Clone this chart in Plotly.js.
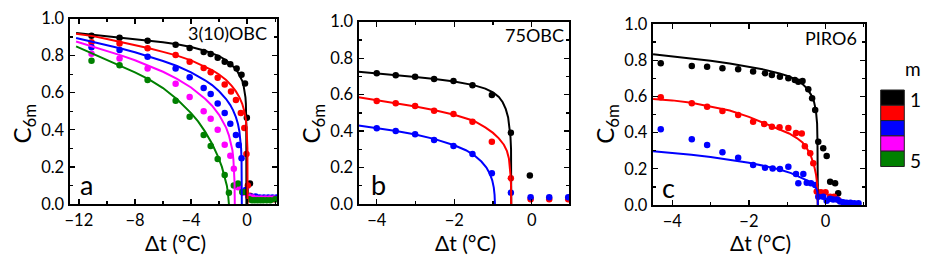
<!DOCTYPE html>
<html>
<head>
<meta charset="utf-8">
<script src="https://cdn.plot.ly/plotly-3.0.1.min.js"></script>
<style>html,body{margin:0;padding:0;background:#fff;}#chart{width:932px;height:268px;}</style>
</head>
<body>
<div id="chart"></div>
<script>
// ---------- DATA ----------
const mLabels = ['1', '2', '3', '4', '5'];
const mColors = ['#000000', '#ff0000', '#0000ff', '#ff00ff', '#008000'];
const panelNames = ['3(10)OBC', '75OBC', 'PIRO6'];
const panelLetters = ['a', 'b', 'c'];
const xTitle = 'Δt (°C)';
const yTitle = 'C<sub>6m</sub>';

// Panel a : 3(10)OBC  (measured points)
const a1x = [-11.1,-9.1,-7.1,-5.1,-4.1,-3.1,-2.6,-2.1,-1.6,-1.2,-0.75,-0.4,-0.15,-0.02,0.2,0.45,0.75,1.05,1.35,1.65,2.0];
const a1y = [0.907,0.896,0.880,0.858,0.841,0.820,0.808,0.789,0.767,0.753,0.73,0.697,0.65,0.465,0.11,0.035,0.03,0.03,0.03,0.03,0.03];
const a2x = [-11.1,-9.1,-7.1,-5.1,-4.1,-3.1,-2.6,-2.1,-1.6,-1.15,-0.8,-0.45,-0.2,-0.05,0.05,0.2,0.4,0.7,1.0,1.3,1.6,1.9];
const a2y = [0.872,0.865,0.84,0.803,0.767,0.733,0.71,0.68,0.644,0.607,0.56,0.49,0.41,0.27,0.1,0.045,0.03,0.03,0.03,0.025,0.025,0.025];
const a3x = [-11.1,-9.1,-7.1,-5.1,-4.1,-3.1,-2.6,-2.1,-1.6,-1.2,-0.8,-0.6,-0.4,-0.1,0.1,0.3,0.6,0.9,1.2,1.5,1.8,2.1];
const a3y = [0.845,0.83,0.794,0.731,0.683,0.626,0.593,0.542,0.49,0.433,0.372,0.318,0.246,0.075,0.04,0.04,0.04,0.035,0.035,0.035,0.035,0.035];
const a4x = [-11.1,-9.1,-7.1,-5.1,-4.1,-3.1,-2.6,-2.1,-1.6,-1.2,-0.95,-0.65,-0.3,0.1,0.4,0.7,1.0,1.3,1.6,1.9];
const a4y = [0.81,0.785,0.731,0.648,0.577,0.5,0.46,0.4,0.32,0.26,0.19,0.09,0.06,0.04,0.035,0.03,0.03,0.03,0.03,0.03];
const a5x = [-11.1,-9.1,-7.1,-5.1,-4.1,-3.1,-2.6,-2.1,-1.6,-1.3,-0.95,-0.65,-0.35,-0.1,0.15,0.35,0.55,0.75,0.95,1.15,1.4,1.65,2.0];
const a5y = [0.772,0.748,0.668,0.557,0.471,0.372,0.313,0.242,0.156,0.06,0.1,0.11,0.065,0.065,0.025,0.02,0.02,0.02,0.02,0.02,0.02,0.02,0.025];
// Panel a fit curves
const a1fx = [-12.2,-11,-10,-9,-8,-7,-6,-5,-4,-3,-2.5,-2,-1.5,-1.2,-0.9,-0.7,-0.5,-0.35,-0.25,-0.17,-0.12,-0.09,-0.07,-0.06,-0.05];
const a1fy = [0.922,0.912,0.904,0.897,0.89,0.882,0.872,0.861,0.846,0.826,0.813,0.797,0.775,0.757,0.735,0.715,0.69,0.664,0.637,0.606,0.575,0.54,0.49,0.42,0.0];
const a2fx = [-12.2,-11,-10,-9,-8,-7,-6,-5,-4,-3,-2.5,-2,-1.5,-1.1,-0.8,-0.55,-0.35,-0.2,-0.1,-0.04,0.0,0.02,0.03];
const a2fy = [0.918,0.905,0.89,0.874,0.858,0.84,0.82,0.8,0.774,0.742,0.722,0.698,0.668,0.637,0.607,0.575,0.54,0.5,0.46,0.41,0.36,0.3,0.0];
const a3fx = [-12.2,-11,-10,-9,-8,-7,-6,-5,-4,-3,-2.5,-2,-1.5,-1.2,-1.0,-0.8,-0.65,-0.55,-0.48,-0.43,-0.40,-0.385,-0.38];
const a3fy = [0.895,0.875,0.857,0.838,0.818,0.796,0.771,0.744,0.71,0.667,0.641,0.608,0.566,0.533,0.505,0.468,0.43,0.39,0.35,0.3,0.24,0.18,0.0];
const a4fx = [-12.2,-11,-10,-9,-8,-7,-6,-5,-4,-3,-2.5,-2,-1.7,-1.5,-1.3,-1.15,-1.05,-0.98,-0.93,-0.9,-0.88];
const a4fy = [0.876,0.849,0.826,0.801,0.775,0.745,0.713,0.675,0.628,0.567,0.53,0.481,0.443,0.412,0.37,0.33,0.29,0.24,0.18,0.12,0.0];
const a5fx = [-12.2,-11,-10,-9,-8,-7,-6,-5,-4,-3.5,-3,-2.5,-2.1,-1.8,-1.6,-1.45,-1.37,-1.33,-1.31,-1.3];
const a5fy = [0.85,0.81,0.778,0.745,0.71,0.672,0.625,0.565,0.49,0.445,0.39,0.325,0.26,0.2,0.15,0.1,0.06,0.03,0.01,0.0];

// Panel b : 75OBC
const b1x = [-4.0,-3.51,-3.01,-2.52,-2.02,-1.53,-1.03,-0.54,-0.05];
const b1y = [0.717,0.706,0.698,0.686,0.675,0.651,0.598,0.391,0.157];
const b2x = [-4.0,-3.51,-3.01,-2.52,-2.02,-1.53,-1.03,-0.54,-0.03,0.45,0.94];
const b2y = [0.565,0.552,0.538,0.512,0.494,0.451,0.342,0.141,0.026,0.026,0.026];
const b3x = [-4.0,-3.51,-3.01,-2.52,-2.02,-1.53,-1.03,-0.54,-0.03,0.45,0.94];
const b3y = [0.415,0.4,0.382,0.351,0.318,0.274,0.168,0.062,0.037,0.037,0.037];
const b1fx = [-4.47,-4,-3.5,-3,-2.5,-2,-1.5,-1.2,-1.0,-0.85,-0.75,-0.67,-0.61,-0.57,-0.55,-0.535,-0.53];
const b1fy = [0.726,0.718,0.708,0.697,0.686,0.672,0.652,0.633,0.612,0.587,0.558,0.52,0.475,0.42,0.37,0.3,0.0];
const b2fx = [-4.47,-4,-3.5,-3,-2.5,-2,-1.5,-1.2,-1.0,-0.85,-0.72,-0.64,-0.59,-0.56,-0.545,-0.535,-0.53];
const b2fy = [0.585,0.57,0.553,0.535,0.514,0.49,0.457,0.42,0.39,0.36,0.325,0.29,0.25,0.2,0.15,0.1,0.0];
const b3fx = [-4.47,-4,-3.5,-3,-2.5,-2,-1.7,-1.5,-1.3,-1.17,-1.08,-1.02,-0.98,-0.96,-0.95];
const b3fy = [0.43,0.416,0.4,0.381,0.356,0.322,0.295,0.27,0.233,0.2,0.165,0.13,0.09,0.05,0.0];

// Panel c : PIRO6
const c1x = [-4.3,-3.49,-3.09,-2.69,-2.28,-1.89,-1.58,-1.4,-1.19,-0.97,-0.8,-0.71,-0.6,-0.45,-0.35,-0.27,-0.19,-0.06,0.03,0.12,0.25,0.33];
const c1y = [0.783,0.768,0.764,0.755,0.75,0.737,0.728,0.718,0.709,0.7,0.691,0.681,0.685,0.64,0.59,0.525,0.35,0.313,0.271,0.129,0.12,0.065];
const c2x = [-4.3,-3.49,-3.09,-2.69,-2.28,-1.89,-1.6,-1.4,-1.2,-0.97,-0.77,-0.62,-0.54,-0.4,-0.32,-0.23,-0.12,0.0,0.12,0.22,0.32];
const c2y = [0.595,0.562,0.543,0.519,0.497,0.46,0.448,0.433,0.43,0.425,0.398,0.395,0.325,0.286,0.23,0.075,0.07,0.07,0.045,0.045,0.03];
const c3x = [-4.3,-3.49,-3.09,-2.69,-2.28,-1.89,-1.58,-1.38,-1.19,-0.97,-0.77,-0.71,-0.58,-0.49,-0.38,-0.27,-0.19,-0.06,0.03,0.12,0.2,0.3,0.38,0.46,0.55,0.65,0.75,0.86];
const c3y = [0.418,0.363,0.331,0.291,0.261,0.221,0.206,0.202,0.199,0.212,0.171,0.12,0.171,0.123,0.12,0.11,0.046,0.046,0.024,0.035,0.03,0.03,0.02,0.015,0.013,0.013,0.01,0.009];
const c1fx = [-4.5,-4,-3.5,-3,-2.5,-2,-1.6,-1.2,-0.95,-0.75,-0.6,-0.48,-0.38,-0.3,-0.25,-0.22,-0.21,-0.2];
const c1fy = [0.833,0.822,0.81,0.797,0.782,0.764,0.748,0.727,0.71,0.69,0.668,0.643,0.61,0.57,0.52,0.45,0.35,0.0];
const c2fx = [-4.5,-4,-3.5,-3,-2.5,-2,-1.6,-1.2,-0.95,-0.75,-0.6,-0.48,-0.38,-0.3,-0.25,-0.22,-0.205,-0.2];
const c2fy = [0.585,0.578,0.565,0.545,0.522,0.487,0.452,0.418,0.395,0.37,0.345,0.31,0.27,0.22,0.17,0.12,0.07,0.0];
const c3fx = [-4.5,-4,-3.5,-3,-2.5,-2,-1.6,-1.2,-0.9,-0.7,-0.5,-0.38,-0.3,-0.25,-0.22,-0.205,-0.2];
const c3fy = [0.297,0.288,0.277,0.265,0.251,0.233,0.216,0.196,0.176,0.158,0.137,0.122,0.108,0.095,0.08,0.06,0.0];

// ---------- BUILD ----------
const FONT = 'Lato, "Open Sans", sans-serif';
const W = 932, H = 268;
const px = v => v / W;
const py = v => 1 - v / H;

const panels = [
  {ax: '', pts: [[a1x,a1y],[a2x,a2y],[a3x,a3y],[a4x,a4y],[a5x,a5y]],
   fits: [[a1fx,a1fy],[a2fx,a2fy],[a3fx,a3fy],[a4fx,a4fy],[a5fx,a5fy]]},
  {ax: '2', pts: [[b1x,b1y],[b2x,b2y],[b3x,b3y]],
   fits: [[b1fx,b1fy],[b2fx,b2fy],[b3fx,b3fy]]},
  {ax: '3', pts: [[c1x,c1y],[c2x,c2y],[c3x,c3y]],
   fits: [[c1fx,c1fy],[c2fx,c2fy],[c3fx,c3fy]]}
];

const traces = [];
panels.forEach(p => {
  p.pts.forEach((d, i) => {
    traces.push({x: d[0], y: d[1], xaxis: 'x' + p.ax, yaxis: 'y' + p.ax, type: 'scatter', mode: 'markers',
      marker: {color: mColors[i], size: 6.5}, showlegend: false, hoverinfo: 'skip'});
  });
  p.fits.forEach((d, i) => {
    traces.push({x: d[0], y: d[1], xaxis: 'x' + p.ax, yaxis: 'y' + p.ax, type: 'scatter', mode: 'lines',
      line: {color: mColors[i], width: 2}, showlegend: false, hoverinfo: 'skip'});
  });
});

const TICKFONT = {family: FONT, size: 16.5, color: '#000'};
function xax(domain, range, dtick, minor, anchor) {
  return {domain: domain, range: range, anchor: anchor, tick0: 0, dtick: dtick,
    ticks: 'inside', ticklen: 5, tickwidth: 1.3, tickcolor: '#000',
    minor: {ticks: 'inside', ticklen: 3, dtick: minor, tickcolor: '#000', tickwidth: 1.3},
    showline: true, linecolor: '#000', linewidth: 2, mirror: 'allticks',
    showgrid: false, zeroline: false, tickfont: TICKFONT};
}
function yax(domain, anchor) {
  return {domain: domain, range: [0, 1], anchor: anchor, tick0: 0, dtick: 0.2, tickformat: '.1f',
    ticks: 'inside', ticklen: 5, tickwidth: 1.3, tickcolor: '#000',
    minor: {ticks: 'inside', ticklen: 3, dtick: 0.1, tickcolor: '#000', tickwidth: 1.3},
    showline: true, linecolor: '#000', linewidth: 2, mirror: 'allticks',
    showgrid: false, zeroline: false, tickfont: TICKFONT};
}

const boxes = [
  {x0: 69.5, x1: 277, y0: 18.5, y1: 204},
  {x0: 358.5, x1: 569, y0: 21.7, y1: 204},
  {x0: 652.7, x1: 865, y0: 24, y1: 205}
];

const layout = {
  width: W, height: H, margin: {l: 0, r: 0, t: 0, b: 0},
  paper_bgcolor: '#fff', plot_bgcolor: '#fff', showlegend: false,
  font: {family: FONT, color: '#000'},
  xaxis: xax([px(boxes[0].x0), px(boxes[0].x1)], [-12.67, 2.13], 4, 2, 'y'),
  yaxis: yax([py(boxes[0].y1), py(boxes[0].y0)], 'x'),
  xaxis2: xax([px(boxes[1].x0), px(boxes[1].x1)], [-4.47, 0.96], 2, 1, 'y2'),
  yaxis2: yax([py(boxes[1].y1), py(boxes[1].y0)], 'x2'),
  xaxis3: xax([px(boxes[2].x0), px(boxes[2].x1)], [-4.51, 1.03], 2, 1, 'y3'),
  yaxis3: yax([py(boxes[2].y1), py(boxes[2].y0)], 'x3'),
  annotations: [],
  shapes: []
};

const nameRight = [269, 566, 859];
const nameY = [33, 35, 38];
const letterX = [86, 378, 668];
const letterY = [184, 184, 187];
boxes.forEach((b, i) => {
  const cx = (b.x0 + b.x1) / 2;
  layout.annotations.push({xref: 'paper', yref: 'paper', x: px(nameRight[i]), y: py(nameY[i]),
    xanchor: 'right', yanchor: 'middle', text: panelNames[i], showarrow: false,
    font: {family: FONT, size: 18, color: '#000'}});
  layout.annotations.push({xref: 'paper', yref: 'paper', x: px(letterX[i]), y: py(letterY[i]),
    xanchor: 'center', yanchor: 'middle', text: panelLetters[i], showarrow: false,
    font: {family: FONT, size: 27, color: '#000'}});
  layout.annotations.push({xref: 'paper', yref: 'paper', x: px(cx + 2), y: py(242),
    xanchor: 'center', yanchor: 'middle', text: xTitle, showarrow: false, borderpad: 0,
    font: {family: FONT, size: 21, color: '#000'}});
  layout.annotations.push({xref: 'paper', yref: 'paper', x: px(b.x0 - 47), y: py(124),
    xanchor: 'center', yanchor: 'middle', text: yTitle, textangle: -90, showarrow: false,
    font: {family: FONT, size: 24, color: '#000'}});
});

// colour key for m
const keyX0 = 880.7, keyX1 = 904.3, keyY0 = 90, keyH = 15.3;
mColors.forEach((c, i) => {
  layout.shapes.push({type: 'rect', xref: 'paper', yref: 'paper',
    x0: px(keyX0), x1: px(keyX1), y0: py(keyY0 + (i + 1) * keyH), y1: py(keyY0 + i * keyH),
    fillcolor: c, line: {color: '#222', width: 1}});
});
layout.annotations.push({xref: 'paper', yref: 'paper', x: px(913), y: py(68), xanchor: 'center', yanchor: 'middle',
  text: 'm', showarrow: false, font: {family: FONT, size: 19, color: '#000'}});
layout.annotations.push({xref: 'paper', yref: 'paper', x: px(915), y: py(keyY0 + keyH * 0.6), xanchor: 'center', yanchor: 'middle',
  text: mLabels[0], showarrow: false, font: {family: FONT, size: 19, color: '#000'}});
layout.annotations.push({xref: 'paper', yref: 'paper', x: px(915), y: py(keyY0 + keyH * 4.6), xanchor: 'center', yanchor: 'middle',
  text: mLabels[4], showarrow: false, font: {family: FONT, size: 19, color: '#000'}});

Plotly.newPlot('chart', traces, layout, {staticPlot: true, displayModeBar: false});
</script>
</body>
</html>
